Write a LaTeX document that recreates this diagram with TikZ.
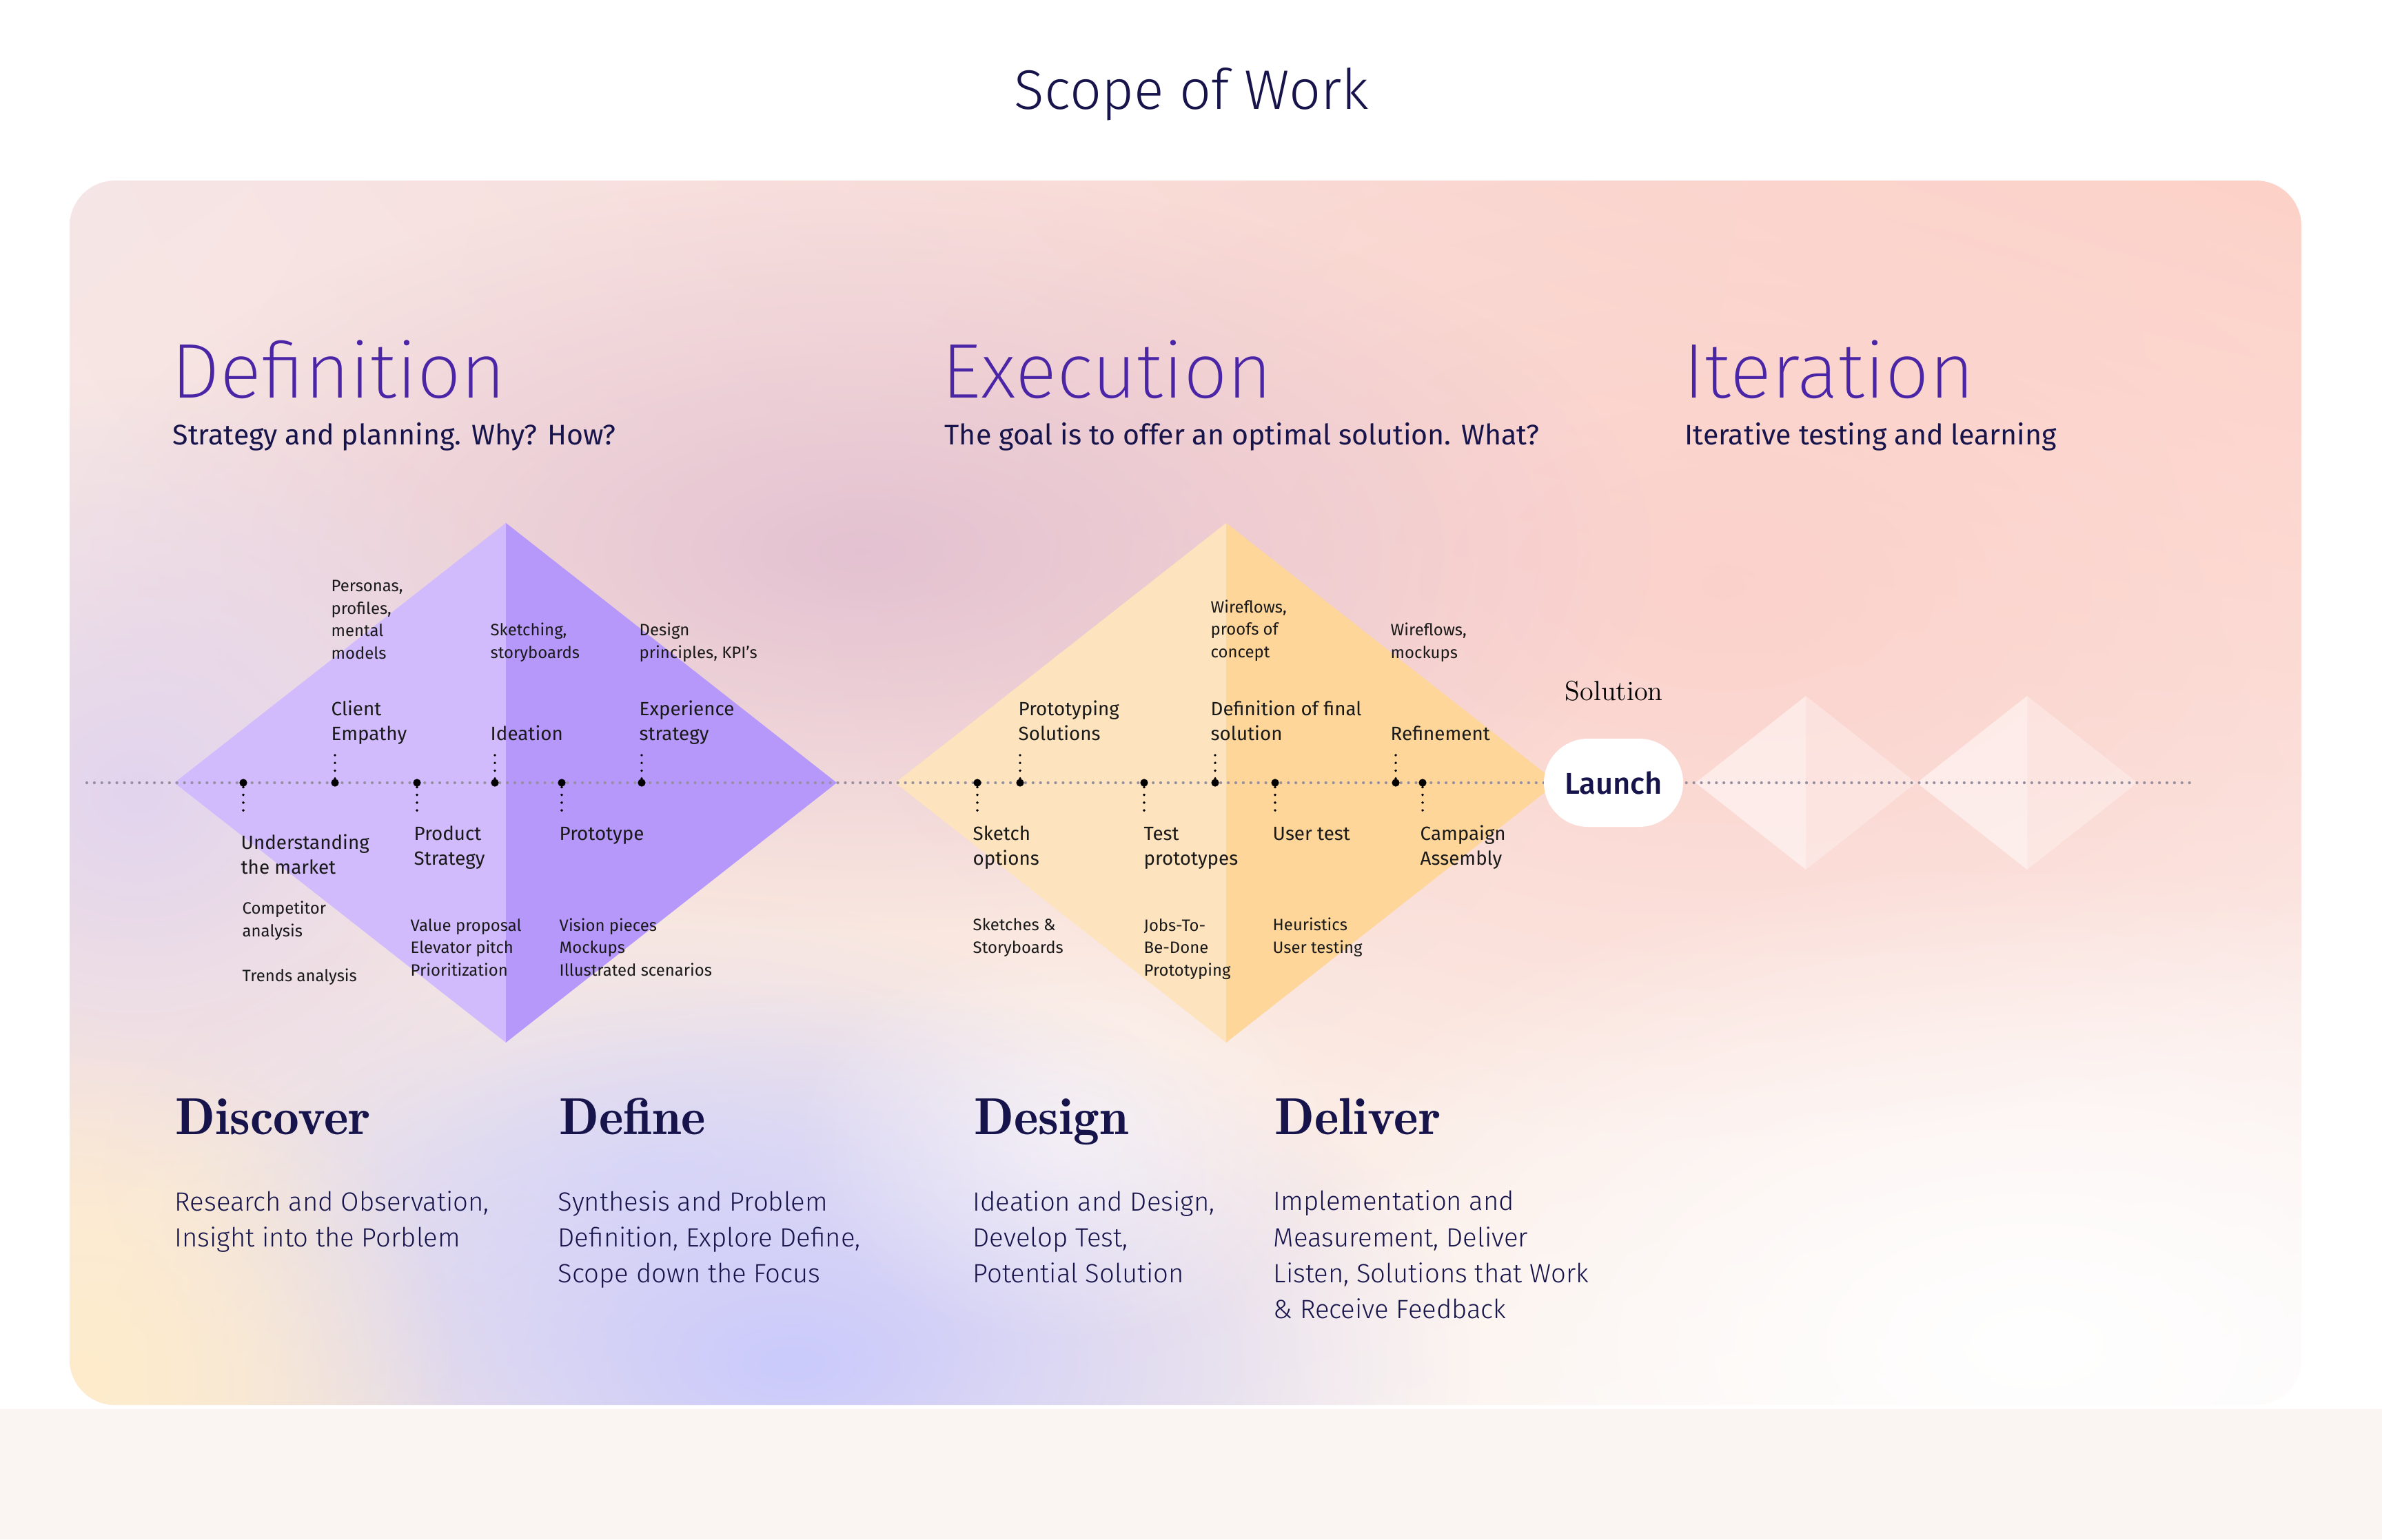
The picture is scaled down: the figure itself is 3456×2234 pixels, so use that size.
\documentclass[tikz,border=0pt]{standalone}
\usepackage{fontspec}
\setsansfont{Fira Sans}
\newfontfamily\lightsf{Fira Sans Light}
\newfontfamily\thinsf{Fira Sans ExtraLight}
\newfontfamily\mediumsf{Fira Sans Medium}
\usetikzlibrary{fadings, shadings}

\definecolor{navy}{RGB}{22,20,74}
\definecolor{headviolet}{RGB}{74,37,166}
\definecolor{lilacA}{RGB}{209,187,253}
\definecolor{lilacB}{RGB}{182,152,250}
\definecolor{sandA}{RGB}{254,228,190}
\definecolor{sandB}{RGB}{254,214,153}
\definecolor{dotgrey}{RGB}{150,144,160}
\definecolor{floorpink}{RGB}{250,244,243}
\definecolor{bgUL}{RGB}{246,229,230}
\definecolor{bgUR}{RGB}{252,210,200}
\definecolor{bgLL}{RGB}{251,233,216}
\definecolor{bgLR}{RGB}{251,246,246}
\definecolor{blobMauve}{RGB}{224,188,207}
\definecolor{blobLav}{RGB}{226,212,238}
\definecolor{blobBlue}{RGB}{220,220,250}
\definecolor{blobPeri}{RGB}{202,202,252}
\definecolor{blobCream}{RGB}{254,236,204}
\definecolor{blobPink}{RGB}{252,206,200}

\tikzfading[name=softblob, inner color=transparent!0, outer color=transparent!100]

\begin{document}
\begin{tikzpicture}[
    x=0.1mm, y=-0.1mm,
    title/.style={font=\lightsf\fontsize{23}{27}\selectfont, text=navy, inner sep=0pt, anchor=base},
    phasehead/.style={font=\thinsf\fontsize{32}{38}\selectfont, text=headviolet, inner sep=0pt, anchor=base west},
    phasesub/.style={font=\sffamily\fontsize{11.7}{14}\selectfont, text=navy, inner sep=0pt, anchor=base west},
    stage/.style={font=\rmfamily\fontseries{b}\fontsize{21.5}{26}\selectfont, text=navy, inner sep=0pt, anchor=base west},
    stagetxt/.style={font=\lightsf\fontsize{10.9}{14.8}\selectfont, text=navy, inner sep=0pt, anchor=base west, align=left},
    lbl/.style={font=\sffamily\fontsize{7.9}{10.2}\selectfont, text=black!90, inner sep=0pt, anchor=base west, align=left},
    note/.style={font=\sffamily\fontsize{6.8}{9.25}\selectfont, text=black!90, inner sep=0pt, anchor=base west, align=left},
    pin/.style={circle, fill=black, inner sep=0pt, minimum size=3.2pt},
    stub/.style={line width=1.1pt, line cap=round, dash pattern=on 0pt off 3.2pt},
    axis/.style={dotgrey, line width=1.2pt, line cap=round, dash pattern=on 0pt off 3.1pt},
    launch/.style={fill=white, rounded corners=6.4mm, minimum width=20.2mm, minimum height=12.8mm, inner sep=0pt, font=\mediumsf\fontsize{12.4}{14}\selectfont, text=navy}
]
    \useasboundingbox (0,0) rectangle (3456,2234);

    % ================= FUNDO =================
    \fill[floorpink] (0,2045) rectangle (3456,2234);
    \begin{scope}
        \clip[rounded corners=6.6mm] (101,262) rectangle (3339,2039);
        \shade[upper left=bgUL, upper right=bgUR, lower left=bgLL, lower right=bgLR] (101,262) rectangle (3339,2039);
        \fill[blobPink, path fading=softblob, fill opacity=0.8] (2500,850) ellipse (1300 and 800);
        \fill[blobMauve, path fading=softblob, fill opacity=0.85] (1250,800) ellipse (1150 and 550);
        \fill[blobLav, path fading=softblob] (200,1150) ellipse (650 and 600);
        \fill[blobBlue, path fading=softblob, fill opacity=0.8] (950,1700) ellipse (800 and 400);
        \fill[blobPeri, path fading=softblob] (1150,1980) ellipse (1000 and 550);
        \fill[blobCream, path fading=softblob] (120,2000) ellipse (550 and 500);
        \fill[white, path fading=softblob] (2950,1950) ellipse (1200 and 700);
        \fill[white, path fading=softblob, fill opacity=0.5] (1550,1650) ellipse (400 and 300);
    \end{scope}

    % ================= TITULOS =================
    \node[title] (scope) at (1729,158) {Scope of Work};

    \node[phasehead] (defHead) at (248,577) {Definition};
    \node[phasesub] (defSub) at (250,645) {Strategy and planning. Why? How?};
    \node[phasehead] (exeHead) at (1366,577) {Execution};
    \node[phasesub] (exeSub) at (1370,645) {The goal is to offer an optimal solution. What?};
    \node[phasehead] (itHead) at (2442,577) {Iteration};
    \node[phasesub] (itSub) at (2444,645) {Iterative testing and learning};

    % ================= DIAMANTES =================
    \fill[lilacA] (253,1136) -- (734,759) -- (734,1513) -- cycle;
    \fill[lilacB] (734,759) -- (1214,1136) -- (734,1513) -- cycle;
    \fill[sandA] (1299,1136) -- (1779,759) -- (1779,1513) -- cycle;
    \fill[sandB] (1779,759) -- (2259,1136) -- (1779,1513) -- cycle;
    \foreach \cx in {2620,2941} {
        \fill[white, opacity=0.5] (\cx-160,1136) -- (\cx,1010) -- (\cx,1262) -- cycle;
        \fill[white, opacity=0.3] (\cx,1010) -- (\cx+160,1136) -- (\cx,1262) -- cycle;
    }

    % ================= LINHA DO TEMPO =================
    \coordinate (axisW) at (126,1136);
    \coordinate (axisE) at (3185,1136);
    \draw[axis] (axisW) -- (axisE);

    % Definition (nos ancorados na linha de base da ultima linha)
    \node[pin] (um) at (353,1136) {};
    \node[pin] (ce) at (486,1136) {};
    \node[pin] (ps) at (605,1136) {};
    \node[pin] (id) at (718,1136) {};
    \node[pin] (pt) at (815,1136) {};
    \node[pin] (es) at (931,1136) {};
    \draw[stub] (um) -- ++(0,48);
    \draw[stub] (ce) -- ++(0,-48);
    \draw[stub] (ps) -- ++(0,48);
    \draw[stub] (id) -- ++(0,-48);
    \draw[stub] (pt) -- ++(0,48);
    \draw[stub] (es) -- ++(0,-48);

    \node[note] (umNote1) at (351,1359) {Competitor\\analysis};
    \node[note] (umNote2) at (351,1424) {Trends analysis};
    \node[lbl] (umLbl) at (349,1268) {Understanding\\the market};
    \node[lbl] (ceLbl) at (480,1074) {Client\\Empathy};
    \node[note] (ceNote) at (480,956) {Personas,\\profiles,\\mental\\models};
    \node[lbl] (psLbl) at (600,1255) {Product\\Strategy};
    \node[note] (psNote) at (595,1416) {Value proposal\\Elevator pitch\\Prioritization};
    \node[lbl] (idLbl) at (711,1074) {Ideation};
    \node[note] (idNote) at (711,955) {Sketching,\\storyboards};
    \node[lbl] (ptLbl) at (811,1219) {Prototype};
    \node[note] (ptNote) at (811,1416) {Vision pieces\\Mockups\\Illustrated scenarios};
    \node[lbl] (esLbl) at (927,1074) {Experience\\strategy};
    \node[note] (esNote) at (927,955) {Design\\principles, KPI’s};

    % Execution
    \node[pin] (so) at (1418,1136) {};
    \node[pin] (pr) at (1480,1136) {};
    \node[pin] (tp) at (1660,1136) {};
    \node[pin] (df) at (1763,1136) {};
    \node[pin] (ut) at (1850,1136) {};
    \node[pin] (rf) at (2025,1136) {};
    \node[pin] (ca) at (2064,1136) {};
    \draw[stub] (so) -- ++(0,48);
    \draw[stub] (pr) -- ++(0,-48);
    \draw[stub] (tp) -- ++(0,48);
    \draw[stub] (df) -- ++(0,-48);
    \draw[stub] (ut) -- ++(0,48);
    \draw[stub] (rf) -- ++(0,-48);
    \draw[stub] (ca) -- ++(0,48);

    \node[lbl] (soLbl) at (1411,1255) {Sketch\\options};
    \node[note] (soNote) at (1411,1383) {Sketches \&\\Storyboards};
    \node[lbl] (prLbl) at (1477,1074) {Prototyping\\Solutions};
    \node[lbl] (tpLbl) at (1659,1255) {Test\\prototypes};
    \node[note] (tpNote) at (1659,1416) {Jobs-To-\\Be-Done\\Prototyping};
    \node[lbl] (dfLbl) at (1756,1074) {Definition of final\\solution};
    \node[note] (dfNote) at (1756,954) {Wireflows,\\proofs of\\concept};
    \node[lbl] (utLbl) at (1846,1219) {User test};
    \node[note] (utNote) at (1846,1383) {Heuristics\\User testing};
    \node[lbl] (rfLbl) at (2017,1074) {Refinement};
    \node[note] (rfNote) at (2017,955) {Wireflows,\\mockups};
    \node[lbl] (caLbl) at (2060,1255) {Campaign\\Assembly};

    % Launch
    \node[font=\rmfamily\fontsize{11.4}{13}\selectfont, inner sep=0pt, anchor=base west] (sol) at (2270,1016) {Solution};
    \node[launch] (launch) at (2341,1136) {Launch};

    % ================= ETAPAS =================
    \node[stage] (discover) at (254,1646) {Discover};
    \node[stage] (define) at (811,1646) {Define};
    \node[stage] (design) at (1413,1646) {Design};
    \node[stage] (deliver) at (1849,1646) {Deliver};

    \node[stagetxt] (discoverTxt) at (253,1809) {Research and Observation,\\Insight into the Porblem};
    \node[stagetxt] (defineTxt) at (809,1861) {Synthesis and Problem\\Definition, Explore Define,\\Scope down the Focus};
    \node[stagetxt] (designTxt) at (1411,1861) {Ideation and Design,\\Develop Test,\\Potential Solution};
    \node[stagetxt] (deliverTxt) at (1847,1913) {Implementation and\\Measurement, Deliver\\Listen, Solutions that Work\\\& Receive Feedback};

\end{tikzpicture}
\end{document}
